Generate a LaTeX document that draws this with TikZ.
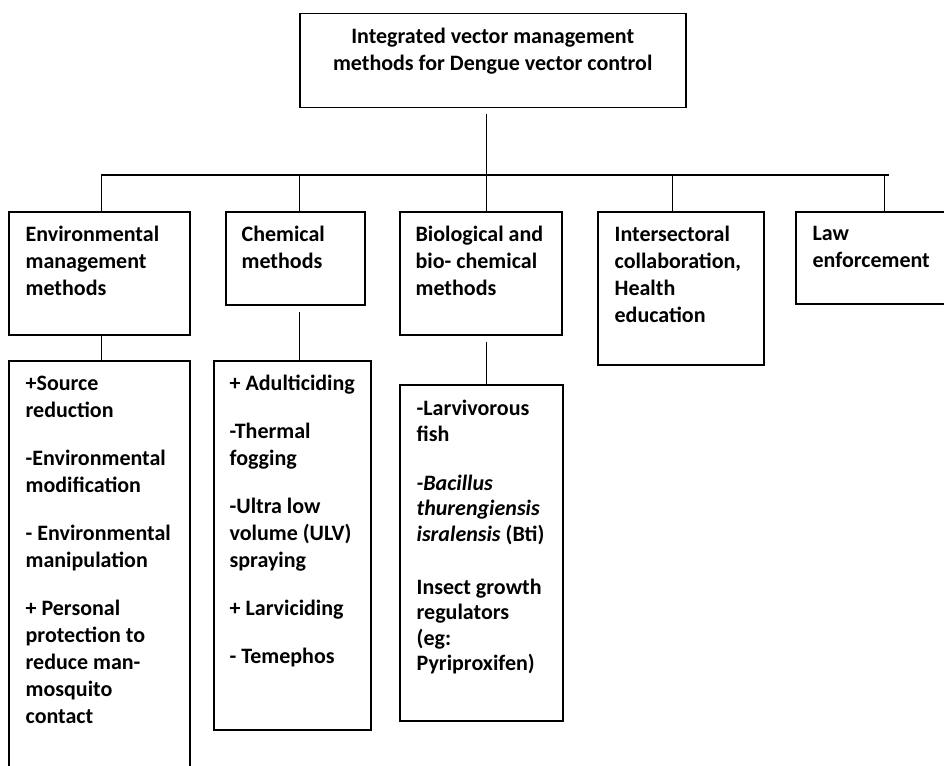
\documentclass[tikz,border=0pt]{standalone}
\usepackage{fontspec}
\setmainfont{Carlito}
\usetikzlibrary{positioning}

\begin{document}
\begin{tikzpicture}[x=1pt,y=-1pt,line width=1.3pt,
  box node/.style={rectangle,draw,line width=1.5pt,inner sep=0pt,anchor=north west},
  txt node/.style={align=left,inner sep=0pt,anchor=north west,
    font=\fontsize{22}{27}\selectfont\bfseries}]
  \useasboundingbox (0,0) rectangle (944,765);
  % boxes
  \node[box node, minimum width=386pt, minimum height=94pt] (1) at (299,13) {};
  \node[box node, minimum width=181pt, minimum height=123pt] (2) at (8,211) {};
  \node[box node, minimum width=139pt, minimum height=93pt] (3) at (225,211) {};
  \node[box node, minimum width=162pt, minimum height=123pt] (4) at (399,211) {};
  \node[box node, minimum width=166pt, minimum height=153pt] (5) at (597,211) {};
  \node[box node, minimum width=149pt, minimum height=92pt] (6) at (795,211) {};
  \node[box node, minimum width=181pt, minimum height=420pt] (7) at (8,360) {};
  \node[box node, minimum width=157pt, minimum height=369pt] (8) at (213,360) {};
  \node[box node, minimum width=163pt, minimum height=336pt] (9) at (399,384) {};
  % texts
  \node[txt node, align=center, anchor=north, below=14pt of 1.north] (1t)
    {Integrated vector management\\methods for Dengue vector control};
  \node[txt node, below right=14pt and 17pt of 2.north west] (2t)
    {Environmental\\management\\methods};
  \node[txt node, below right=14pt and 16pt of 3.north west] (3t)
    {Chemical\\methods};
  \node[txt node, below right=14pt and 16pt of 4.north west] (4t)
    {Biological and\\bio- chemical\\methods};
  \node[txt node, below right=14pt and 17pt of 5.north west] (5t)
    {Intersectoral\\collaboration,\\Health\\education};
  \node[txt node, below right=15pt and 17pt of 6.north west] (6t)
    {Law\\enforcement};
  \node[txt node, below right=15.5pt and 17pt of 7.north west] (7t)
    {+Source\\reduction\\[21pt]-Environmental\\modification\\[21pt]- Environmental\\manipulation\\[21pt]+ Personal\\protection to\\reduce man-\\mosquito\\contact};
  \node[txt node, below right=14.5pt and 16pt of 8.north west] (8t)
    {+ Adulticiding\\[21pt]-Thermal\\fogging\\[21pt]-Ultra low\\volume (ULV)\\spraying\\[21pt]+ Larviciding\\[21pt]- Temephos};
  \node[txt node, font=\fontsize{22}{25.5}\selectfont\bfseries,
    below right=15.5pt and 17pt of 9.north west] (9t)
    {-Larvivorous\\fish\\[23.5pt]\textit{-Bacillus}\\\textit{thurengiensis}\\\textit{isralensis} (Bti)\\[27.5pt]Insect growth\\regulators\\(eg:\\Pyriproxifen)};
  % connectors
  \coordinate (b1) at (101,175);
  \coordinate (b5) at (889,175);
  \draw (b1) -- (b5);
  \draw ([xshift=-6pt,yshift=-6pt]1.south) -- ([xshift=6pt]4.north);
  \draw ([xshift=2.5pt]2.north) -- ([xshift=2.5pt]2.north |- b1);
  \draw ([xshift=4.5pt]3.north) -- ([xshift=4.5pt]3.north |- b1);
  \draw ([xshift=-8pt]5.north) -- ([xshift=-8pt]5.north |- b1);
  \draw ([xshift=14.5pt]6.north) -- ([xshift=14.5pt]6.north |- b1);
  \draw ([xshift=2.5pt]2.south) -- ([xshift=2.5pt]7.north);
  \draw ([xshift=4.5pt,yshift=-6pt]3.south) -- ([xshift=7.5pt]8.north);
  \draw ([xshift=6pt,yshift=-6pt]4.south) -- ([xshift=5.5pt]9.north);
\end{tikzpicture}
\end{document}
